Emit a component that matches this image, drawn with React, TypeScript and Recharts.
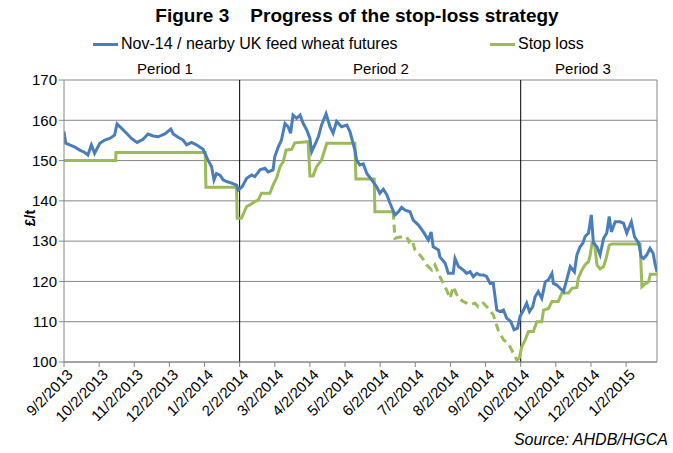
import React from "react";
import { CartesianGrid, Line, LineChart, ReferenceLine, XAxis, YAxis } from "recharts";

// x = months since 9/2/2013
const monthLabels = [
  "9/2/2013", "10/2/2013", "11/2/2013", "12/2/2013", "1/2/2014", "2/2/2014", "3/2/2014", "4/2/2014",
  "5/2/2014", "6/2/2014", "7/2/2014", "8/2/2014", "9/2/2014", "10/2/2014", "11/2/2014", "12/2/2014", "1/2/2015",
];
const yTicks = [100, 110, 120, 130, 140, 150, 160, 170];
const periodBounds = [5, 13];
const X_MAX = 16.88;

const futures: [number, number][] = [
  [0, 157.2], [0.05, 154.3], [0.16, 153.9], [0.3, 153.4], [0.45, 152.6], [0.59, 152.0], [0.68, 151.4],
  [0.78, 153.9], [0.87, 151.8], [1.02, 154.3], [1.16, 155.1], [1.3, 155.5], [1.44, 156.3], [1.51, 159.1],
  [1.64, 158.0], [1.78, 156.8], [1.92, 155.5], [2.08, 154.5], [2.25, 155.3], [2.39, 156.6], [2.54, 156.1],
  [2.68, 155.9], [2.87, 156.6], [3.04, 157.8], [3.11, 156.6], [3.25, 155.8], [3.39, 155.1], [3.49, 153.9],
  [3.63, 154.5], [3.77, 153.9], [3.96, 152.8], [4.1, 150.1], [4.2, 148.5], [4.27, 145.2], [4.34, 146.8],
  [4.44, 146.4], [4.53, 145.2], [4.63, 144.8], [4.77, 144.4], [4.91, 143.9], [4.96, 142.7], [5.07, 143.5],
  [5.2, 145.6], [5.34, 146.4], [5.43, 146.0], [5.58, 147.7], [5.72, 148.1], [5.81, 147.2], [5.95, 147.7],
  [6.0, 151.0], [6.1, 153.4], [6.19, 155.1], [6.29, 159.2], [6.38, 158.4], [6.45, 156.8], [6.52, 161.3],
  [6.62, 160.5], [6.72, 161.3], [6.81, 159.2], [6.91, 157.6], [7.0, 155.5], [7.05, 152.2], [7.14, 153.9],
  [7.24, 155.9], [7.33, 158.8], [7.46, 161.6], [7.57, 158.4], [7.66, 156.8], [7.76, 159.7], [7.9, 158.4],
  [8.05, 158.8], [8.14, 157.2], [8.28, 152.6], [8.33, 150.1], [8.42, 148.9], [8.52, 149.2], [8.62, 146.8],
  [8.76, 145.2], [8.9, 143.5], [8.99, 141.9], [9.09, 142.9], [9.19, 141.5], [9.28, 139.4], [9.42, 136.5],
  [9.52, 137.3], [9.61, 138.4], [9.71, 137.7], [9.85, 137.3], [9.94, 135.2], [10.09, 134.0], [10.23, 132.3],
  [10.37, 130.3], [10.45, 132.3], [10.51, 128.6], [10.66, 127.8], [10.7, 126.1], [10.85, 124.5], [10.94, 122.0],
  [11.08, 122.0], [11.13, 125.7], [11.23, 123.7], [11.37, 122.8], [11.46, 122.0], [11.56, 122.4], [11.65, 121.2],
  [11.75, 122.0], [11.84, 121.6], [11.94, 121.6], [12.03, 121.2], [12.13, 119.5], [12.22, 119.5], [12.32, 112.9],
  [12.41, 112.5], [12.51, 112.9], [12.6, 110.9], [12.72, 110.0], [12.81, 108.0], [12.91, 108.4], [12.98, 111.3],
  [13.08, 112.9], [13.17, 114.6], [13.25, 112.5], [13.34, 113.7], [13.41, 116.2], [13.5, 117.5], [13.6, 115.8],
  [13.7, 119.9], [13.79, 120.4], [13.89, 122.0], [13.93, 119.5], [14.03, 119.1], [14.12, 118.3], [14.22, 117.5],
  [14.31, 120.4], [14.41, 123.7], [14.53, 122.4], [14.6, 126.6], [14.69, 128.6], [14.77, 129.5], [14.83, 131.1],
  [14.93, 132.0], [15.01, 136.5], [15.07, 129.5], [15.17, 128.6], [15.26, 126.6], [15.36, 130.7], [15.45, 132.0],
  [15.52, 136.1], [15.58, 132.3], [15.69, 134.8], [15.83, 134.8], [15.93, 134.4], [16.02, 132.0], [16.15, 134.8],
  [16.24, 131.1], [16.36, 129.5], [16.43, 126.1], [16.5, 125.7], [16.59, 126.6], [16.68, 128.2], [16.77, 127.0],
  [16.83, 124.1], [16.88, 122.4],
];

// stop loss, solid before period 3 dashed stretch
const stopEarly: [number, number][] = [
  [0, 150], [1.47, 150], [1.48, 152], [4.02, 152], [4.04, 143.4], [4.91, 143.4], [4.93, 135.7], [5.05, 135.7],
  [5.2, 138.6], [5.29, 139.0], [5.43, 139.8], [5.53, 140.2], [5.62, 141.9], [5.86, 141.9], [5.95, 143.9],
  [6.05, 145.6], [6.15, 148.5], [6.24, 149.7], [6.32, 152.6], [6.48, 152.8], [6.57, 154.4], [6.95, 154.7],
  [7.0, 146.2], [7.09, 146.2], [7.19, 148.5], [7.33, 150.1], [7.48, 154.3], [8.28, 154.3], [8.31, 145.4],
  [8.83, 145.4], [8.85, 137.3], [9.37, 137.3],
];
const stopDashed: [number, number][] = [
  [9.37, 137.3], [9.42, 130.7], [9.56, 131.0], [9.75, 131.1], [9.82, 129.8], [9.9, 130.5], [9.99, 127.8],
  [10.18, 126.1], [10.32, 124.1], [10.47, 122.8], [10.56, 124.1], [10.7, 121.2], [10.89, 117.9], [10.99, 115.8],
  [11.08, 118.7], [11.23, 115.8], [11.37, 115.0], [11.56, 114.2], [11.7, 114.6], [11.79, 113.7], [11.94, 114.6],
  [12.08, 113.3], [12.22, 111.7], [12.36, 107.9], [12.51, 105.5], [12.65, 104.6], [12.79, 102.2], [12.89, 100.5],
  [12.96, 100.9],
];
const stopLate: [number, number][] = [
  [12.96, 100.9], [13.03, 103.8], [13.13, 105.5], [13.22, 107.6], [13.36, 107.6], [13.46, 110.0], [13.6, 110.0],
  [13.65, 112.9], [13.79, 113.3], [13.89, 115.0], [14.07, 115.0], [14.17, 117.1], [14.36, 117.1], [14.46, 118.3],
  [14.6, 118.5], [14.64, 120.8], [14.74, 122.8], [14.83, 124.1], [14.93, 124.9], [14.98, 126.6], [15.03, 129.5],
  [15.1, 129.5], [15.17, 124.1], [15.26, 123.1], [15.36, 123.7], [15.42, 125.3], [15.52, 129.0], [15.6, 129.3],
  [16.4, 129.3], [16.45, 118.7], [16.54, 119.4], [16.64, 119.9], [16.69, 121.8], [16.88, 121.8],
];

const BLUE = "#4a7ebb";
const GREEN = "#9bbb59";
const GRID = "#868686";
const FONT = "'Liberation Sans', Arial, sans-serif";

const toRows = (pts: [number, number][]) => pts.map(([t, v]) => ({ t, v }));

function MonthTick({ x, y, payload }: any) {
  return (
    <g transform={`translate(${x + 6},${y + 3})`}>
      <text transform="rotate(-45)" textAnchor="end" dy="0.35em" fontSize={15} fontFamily={FONT} fill="#000">
        {monthLabels[payload.value]}
      </text>
    </g>
  );
}

export default function App() {
  return (
    <div style={{ position: "relative", width: 673, height: 453, background: "#fff", fontFamily: FONT }}>
      <style>{`body{margin:0}`}</style>
      <div
        style={{ position: "absolute", left: 0, width: 714, top: 5, textAlign: "center", fontSize: 19, fontWeight: "bold", whiteSpace: "pre" }}
      >
        {"Figure 3    Progress of the stop-loss strategy"}
      </div>
      <div style={{ position: "absolute", left: 93, top: 35, display: "flex", alignItems: "center", fontSize: 16 }}>
        <span style={{ width: 25, height: 3, background: BLUE, marginRight: 3 }} />
        <span>Nov-14 / nearby UK feed wheat futures</span>
      </div>
      <div style={{ position: "absolute", left: 490, top: 35, display: "flex", alignItems: "center", fontSize: 16 }}>
        <span style={{ width: 25, height: 3, background: GREEN, marginRight: 3 }} />
        <span>Stop loss</span>
      </div>
      {[["Period 1", 165], ["Period 2", 381], ["Period 3", 583]].map(([label, cx]) => (
        <div key={label as string} style={{ position: "absolute", left: (cx as number) - 40, width: 80, top: 60, textAlign: "center", fontSize: 15 }}>
          {label}
        </div>
      ))}
      <div
        style={{ position: "absolute", left: 22, top: 210, fontSize: 14, fontWeight: "bold", transform: "rotate(-90deg)" }}
      >
        £/t
      </div>
      <div style={{ position: "absolute", right: 5, top: 431, fontSize: 16, fontStyle: "italic" }}>Source: AHDB/HGCA</div>

      <LineChart width={673} height={453} margin={{ top: 80, right: 16, bottom: 0, left: 0 }}>
        <CartesianGrid vertical={false} stroke={GRID} />
        <XAxis
          type="number"
          dataKey="t"
          domain={[0, X_MAX]}
          ticks={monthLabels.map((_, i) => i)}
          tick={<MonthTick />}
          height={91}
          stroke={GRID}
          tickSize={5}
          interval={0}
          allowDataOverflow
        />
        <YAxis
          domain={[100, 170]}
          ticks={yTicks}
          width={64}
          stroke={GRID}
          tickSize={5}
          tick={{ fill: "#000", fontSize: 15, fontFamily: FONT }}
          interval={0}
        />
        <ReferenceLine x={X_MAX} stroke={GRID} />
        {periodBounds.map((b) => (
          <ReferenceLine key={b} x={b} stroke="#000" />
        ))}
        <Line data={toRows(stopEarly)} dataKey="v" stroke={GREEN} strokeWidth={3} dot={false} isAnimationActive={false} />
        <Line
          data={toRows(stopDashed)}
          dataKey="v"
          stroke={GREEN}
          strokeWidth={3}
          strokeDasharray="8 5"
          dot={false}
          isAnimationActive={false}
        />
        <Line data={toRows(stopLate)} dataKey="v" stroke={GREEN} strokeWidth={3} dot={false} isAnimationActive={false} />
        <Line data={toRows(futures)} dataKey="v" stroke={BLUE} strokeWidth={3} dot={false} isAnimationActive={false} />
      </LineChart>
    </div>
  );
}
